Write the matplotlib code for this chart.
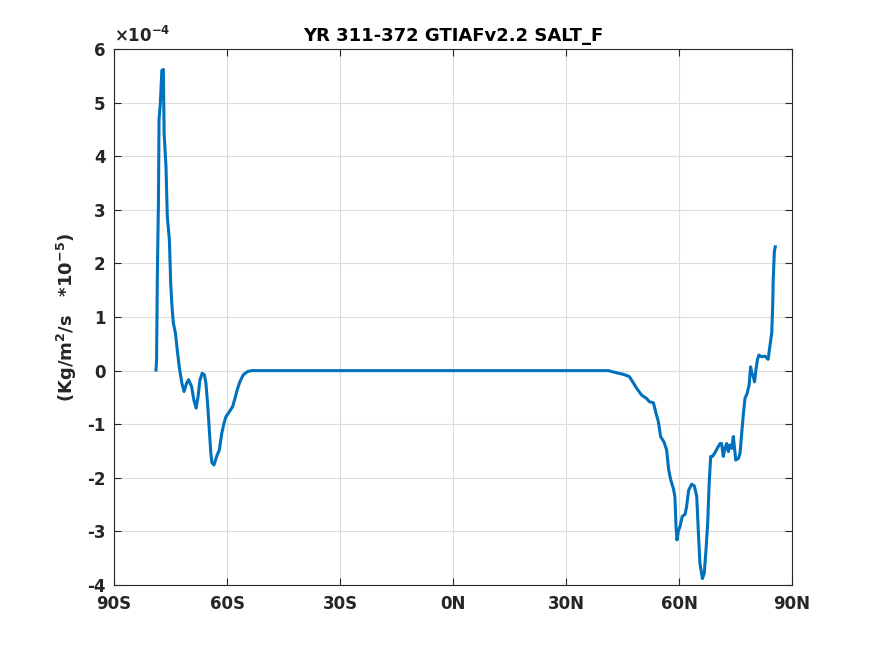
import numpy as np
import matplotlib
matplotlib.use("Agg")
import matplotlib.pyplot as plt

# zonal mean salt flux, units of 1e-4
lat = [-78.85, -78.7, -78.5, -78.2, -78.05, -77.7, -77.3, -76.9, -76.7, -76.2,
       -75.85, -75.3, -74.95, -74.6, -74.25, -73.7, -73.2, -72.65, -72.0, -71.4,
       -70.7, -70.2, -69.4, -68.8, -68.2, -67.7, -67.2, -66.6, -66.0, -65.6,
       -65.1, -64.7, -64.3, -64.0, -63.45, -62.75, -62.05, -61.4, -60.8, -60.3,
       -59.4, -58.5, -57.9, -57.3, -56.6, -55.7, -54.6, -53.45,
       41.2, 43.4, 45.2, 46.8, 47.7, 48.75, 50.1, 51.4, 52.1, 53.2,
       53.9, 54.5, 55.1, 56.0, 56.7, 57.25, 57.8, 58.5, 58.9, 59.2,
       59.45, 59.8, 60.25, 60.85, 61.6, 62.0, 62.55, 63.35, 64.05, 64.7,
       65.1, 65.55, 66.2, 66.7, 67.15, 67.6, 68.0, 68.4, 68.9, 69.45,
       70.15, 70.9, 71.3, 71.75, 72.2, 72.65, 73.1, 73.5, 74.0, 74.4,
       74.7, 75.05, 75.75, 76.2, 76.6, 77.05, 77.5, 78.1, 78.6, 79.0,
       79.35, 79.7, 80.05, 80.4, 80.8, 81.2, 81.9, 82.8, 83.65, 84.1,
       84.6, 84.85, 85.0, 85.3, 85.55]
salt_f = [0.01, 0.2, 1.75, 3.18, 4.68, 4.99, 5.6, 5.62, 4.43, 3.8,
          2.87, 2.44, 1.63, 1.19, 0.89, 0.7, 0.38, 0.05, -0.23, -0.39,
          -0.23, -0.17, -0.3, -0.55, -0.70, -0.49, -0.18, -0.05, -0.08, -0.23,
          -0.67, -1.11, -1.54, -1.72, -1.76, -1.6, -1.48, -1.17, -0.98, -0.86,
          -0.77, -0.67, -0.52, -0.36, -0.21, -0.08, -0.02, 0.0,
          0.0, -0.04, -0.07, -0.11, -0.21, -0.33, -0.46, -0.52, -0.58, -0.6,
          -0.8, -0.95, -1.23, -1.33, -1.48, -1.85, -2.04, -2.2, -2.35, -2.91,
          -3.16, -3.0, -2.91, -2.72, -2.68, -2.54, -2.23, -2.12, -2.15, -2.35,
          -2.97, -3.6, -3.88, -3.78, -3.35, -2.85, -2.1, -1.6, -1.6, -1.54,
          -1.45, -1.36, -1.36, -1.6, -1.45, -1.36, -1.51, -1.39, -1.45, -1.23,
          -1.42, -1.67, -1.64, -1.54, -1.2, -0.83, -0.52, -0.42, -0.27, 0.07,
          -0.05, -0.11, -0.21, 0.01, 0.2, 0.29, 0.26, 0.27, 0.21, 0.45,
          0.70, 1.19, 1.69, 2.22, 2.31]

xticks = [-90, -60, -30, 0, 30, 60, 90]
xticklabels = ["90S", "60S", "30S", "0N", "30N", "60N", "90N"]
yticks = list(range(-4, 7))

plt.rcParams["font.family"] = "DejaVu Sans"
plt.rcParams["font.weight"] = "bold"
plt.rcParams["mathtext.default"] = "bf"
plt.rcParams["axes.unicode_minus"] = False

fig = plt.figure(figsize=(8.75, 6.56), dpi=100)
ax = fig.add_axes([0.1303, 0.1082, 0.7749, 0.8171])

ax.plot(lat, salt_f, color="#0072BD", lw=2.2)

ax.set_xlim(-90, 90)
ax.set_ylim(-4, 6)
ax.set_xticks(xticks)
ax.set_xticklabels(xticklabels)
ax.set_yticks(yticks)
ax.grid(True, color="#dcdcdc", lw=0.8)
ax.set_axisbelow(True)
ax.tick_params(direction="in", top=True, right=True, length=5, width=0.8,
               labelsize=12, colors="#262626")
ax.tick_params(axis="x", pad=7)
ax.tick_params(axis="y", pad=6)
for sp in ax.spines.values():
    sp.set_color("#262626")
    sp.set_linewidth(0.8)

ax.set_title("YR 311-372 GTIAFv2.2 SALT_F", fontsize=13, fontweight="bold",
             color="black", pad=6)
ax.set_ylabel(r"(Kg/m$^2$/s   *10$^{-5}$)", fontsize=13, fontweight="bold",
              color="#262626", labelpad=6)
ax.text(0.0, 1.006, r"$\times$10$^{-4}$", transform=ax.transAxes,
        fontsize=12, fontweight="bold", color="#262626", ha="left", va="bottom")

fig.savefig("out.png", dpi=100)
